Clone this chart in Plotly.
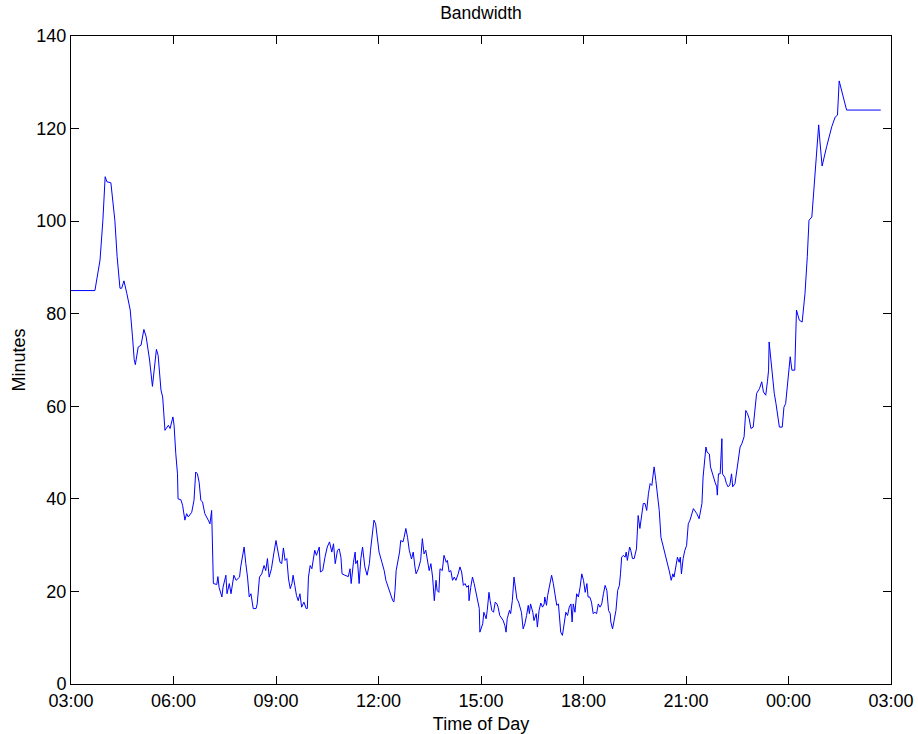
import pandas as pd
import plotly.graph_objects as go

# Bandwidth samples: (minutes after 03:00, minutes of bandwidth)
early_morning = [
    (0, 85), (42, 85), (51, 91.6), (56, 100.2), (60, 109.6), (63, 108.5), (70, 108.3),
    (77, 100.2), (81, 92.3), (86, 85.5), (89, 85.5), (93, 87.1), (98, 84.4), (104, 80.8),
    (108, 75), (111, 70.1), (113, 69), (118, 72.8), (123, 73.2), (128, 76.6), (132, 75),
    (138, 70), (143, 64.3), (148, 71), (150, 72.3), (153, 71), (155, 68.1), (158, 63.5),
    (161, 62), (163, 58), (165, 54.8), (171, 55.9), (174, 55.2), (179, 57.7), (181, 55.9),
    (184, 49.8), (187, 45.4), (188, 40), (193, 39.8), (196, 38.6), (200, 35.4), (203, 36.8),
    (206, 36.1), (212, 37.1), (216, 39.7), (219, 45.8), (222, 45.4), (225, 43.6), (228, 39.7),
    (231, 39.3), (235, 36.8), (241, 35.4), (244, 34.6), (247, 37.5), (249, 29.9),
]

morning = [
    (250, 21.7), (256, 21.5), (258, 23.2), (260, 20.9), (265, 18.8), (267, 20.9), (272, 23.5),
    (274, 19.5), (278, 21.7), (281, 19.5), (286, 23.5), (290, 22.4), (296, 23.1), (298, 25.3),
    (301, 27.8), (304, 29.6), (307, 26), (310, 23.1), (313, 18.8), (316, 19.5), (320, 16.3),
    (325, 16.3), (327, 17.3), (331, 23.1), (335, 23.8), (339, 25.6), (342, 24.5), (345, 27.1),
    (348, 23.1), (352, 24.9), (356, 28.1), (360, 31), (362, 29.6), (367, 26.3), (370, 26),
    (373, 29.4), (376, 26.7), (379, 27.1), (382, 22.7), (385, 20.6), (388, 21.7), (390, 23.5),
    (393, 21.3), (396, 19.1), (399, 18), (402, 19.5), (405, 16.6), (409, 17.7), (413, 16.3),
    (415, 16.3), (417, 23.1), (420, 25.6), (423, 24.9), (426, 27.1), (428, 28.9), (431, 27.8),
    (436, 29.6), (438, 24.2), (442, 24.5), (446, 27.4), (450, 29.6), (454, 30.7), (458, 28.5),
    (461, 30.3), (464, 26), (468, 28.9), (471, 29.2), (474, 27.4), (476, 23.8), (481, 23.5),
    (487, 23.2), (490, 24.9), (492, 21.7), (496, 26.3), (499, 28.5), (500, 26), (503, 26.7),
    (506, 21.7), (509, 27.1), (512, 29.6), (516, 25.3), (520, 23.5), (524, 26), (526, 28.9),
    (529, 31.7), (532, 35.4), (535, 34.6), (538, 30.7),
]

afternoon = [
    (541, 28.5), (546, 26.3), (550, 24.5), (553, 22.4), (557, 20.9), (561, 19.5), (565, 18),
    (567, 17.7), (569, 20.2), (571, 24.5), (573, 26), (577, 28.5), (579, 31), (583, 30.7),
    (585, 31.7), (588, 33.6), (591, 31.7), (594, 28.9), (598, 27), (601, 28.5), (604, 25.3),
    (606, 23.8), (610, 24.9), (614, 26.7), (617, 31.4), (620, 28.1), (623, 28.9), (626, 27.1),
    (629, 24.5), (632, 26), (635, 23.1), (638, 18), (641, 22.4), (643, 20.2), (646, 19.8),
    (648, 24.9), (652, 24.5), (655, 27.8), (659, 26.3), (661, 26.7), (664, 24.2), (667, 24.5),
    (670, 22.4), (673, 23.1), (676, 22.4), (680, 23.8), (683, 25.3), (686, 24.2), (689, 21.3),
    (692, 21.7), (695, 20.9), (698, 21.3), (699, 18), (702, 20.9), (705, 23.1), (708, 21.7),
    (711, 19.8), (714, 18.4), (717, 16.3), (718, 11.2), (721, 12.6), (723, 13), (725, 15.5),
    (729, 14.1), (731, 15.9), (734, 19.8), (736, 18), (739, 15.9), (742, 15.5), (745, 17.7),
    (748, 17.3), (750, 16.6), (753, 14.8), (756, 14.1), (759, 13.7), (762, 12.6), (764, 11.2),
    (766, 14.1), (770, 15.9), (772, 15.2), (775, 18), (778, 23.1), (780, 21.3), (783, 18.4),
    (786, 17.7), (788, 16.6), (791, 15.5), (794, 11.9), (797, 13), (800, 14.8), (803, 17),
    (805, 15.2), (807, 17.3), (811, 15.5), (813, 13.7), (817, 15.2), (819, 12.3), (822, 15.9),
    (825, 17.5), (828, 16.6), (831, 17.3), (832, 18.8), (835, 17), (837, 19.1), (840, 20.9),
    (844, 23.5), (847, 21.7), (850, 19.1), (853, 17), (856, 17.3), (858, 13.7), (860, 11.2),
    (863, 10.5), (866, 13.4), (869, 15.5), (872, 14.8), (875, 16.6), (878, 17.3), (880, 13.4),
    (882, 17.3), (885, 15.5), (888, 19.5), (891, 18.8), (894, 20.9), (897, 23.8),
]

evening = [
    (900, 22.4), (903, 19.8), (906, 21.7), (908, 18.8), (911, 18.8), (914, 17.7), (917, 15.2),
    (920, 15.5), (923, 15.2), (926, 17.3), (929, 16.6), (932, 17.3), (935, 19.5), (938, 21.3),
    (941, 20.2), (944, 15.9), (947, 15.2), (948, 13.4), (951, 11.9), (954, 13.7), (957, 15.9),
    (960, 20.2), (963, 21.3), (965, 23.8), (967, 27.4), (970, 27.8), (973, 27.4), (975, 28.5),
    (977, 26.7), (981, 29.6), (983, 28.9), (986, 27.1), (989, 27.1), (993, 29.2), (995, 33.2),
    (996, 36.4), (999, 33.6), (1002, 36.4), (1005, 39), (1008, 39), (1011, 37.5), (1014, 41.1),
    (1017, 43.3), (1020, 42.9), (1023, 45.4), (1024, 46.9), (1027, 44), (1030, 41.1),
    (1033, 37.5), (1036, 31.7), (1039, 30.3), (1041, 28.9), (1045, 27.4), (1047, 26),
    (1051, 24.2), (1054, 22.4), (1057, 23.8), (1059, 23.1), (1062, 25.6), (1065, 27.4),
    (1068, 26.3), (1070, 27.4), (1072, 23.8), (1075, 27.1), (1078, 28.9), (1081, 29.9),
    (1084, 34.6), (1087, 35.4), (1093, 37.9), (1099, 36.8), (1103, 35.7), (1108, 39),
    (1110, 44.7), (1112, 46.9), (1115, 51.2), (1117, 50.1), (1121, 49.7), (1123, 46.9),
    (1127, 45.1), (1131, 43.6), (1134, 42.6), (1135, 40.8), (1137, 45.4), (1140, 45.4),
    (1143, 53), (1144, 45.4), (1148, 44.7), (1151, 43.3), (1154, 42.6), (1157, 43),
    (1160, 45.4), (1162, 42.6), (1166, 43.3), (1169, 45.8), (1172, 47.6), (1175, 51.2),
    (1178, 51.9), (1182, 53.4), (1185, 59.1), (1188, 58.4), (1191, 57.3), (1194, 55.2),
    (1198, 55.5), (1201, 59.5), (1204, 62.8), (1209, 63.8), (1213, 65.3), (1216, 63.1),
    (1220, 62.4), (1223, 65.3), (1225, 67.8), (1226, 73.9), (1229, 70), (1235, 62.8),
    (1238, 60.6), (1242, 57.7), (1244, 55.5), (1249, 55.5), (1252, 59.8), (1255, 60.6),
    (1257, 63.5),
]

night = [
    (1260, 67.4), (1263, 70.7), (1266, 67.8), (1271, 67.8), (1274, 80.8), (1279, 78.6),
    (1284, 78.2), (1289, 84.4), (1293, 92.3), (1296, 100.2), (1301, 100.9), (1304, 106),
    (1308, 113.2), (1313, 120.8), (1315, 117.5), (1319, 111.9), (1327, 116.1), (1336, 120.4),
    (1342, 122.5), (1346, 122.9), (1349, 130.3), (1353, 128.3), (1362, 124), (1422, 124),
]

y_ticks = [0, 20, 40, 60, 80, 100, 120, 140]

samples = early_morning + morning + afternoon + evening + night
start = pd.Timestamp("2000-01-01 03:00")
times = [start + pd.Timedelta(minutes=m) for m, _ in samples]
values = [v for _, v in samples]

font_family = "Liberation Sans, Arial, Helvetica, sans-serif"
label_font = dict(family=font_family, size=18, color="#000000")

fig = go.Figure(
    go.Scatter(
        x=times,
        y=values,
        mode="lines",
        line=dict(color="#0000ff", width=1),
        hoverinfo="x+y",
    )
)

axis_common = dict(
    showgrid=False,
    zeroline=False,
    showline=True,
    linecolor="#000000",
    linewidth=1,
    mirror="ticks",
    ticks="inside",
    ticklen=8,
    tickwidth=1,
    tickcolor="#000000",
    automargin=False,
    tickfont=label_font,
)

fig.update_xaxes(
    type="date",
    range=[start, start + pd.Timedelta(hours=24)],
    tick0=start,
    dtick=3 * 3600 * 1000,
    tickformat="%H:%M",
    ticklabelstandoff=0,
    title=dict(text="Time of Day", font=label_font, standoff=10),
    **axis_common,
)

fig.update_yaxes(
    range=[0, 140],
    tickvals=y_ticks,
    title=dict(text="Minutes", font=label_font, standoff=6),
    **axis_common,
)

fig.update_layout(
    width=918,
    height=734,
    margin=dict(l=71, r=27, t=36, b=50),
    paper_bgcolor="#ffffff",
    plot_bgcolor="#ffffff",
    showlegend=False,
    title=dict(
        text="Bandwidth",
        font=dict(family=font_family, size=17.5, color="#000000"),
        x=0.5,
        xref="paper",
        xanchor="center",
        y=1 - 13 / 734,
        yref="container",
        yanchor="middle",
    ),
)

fig.write_html("out.html")
